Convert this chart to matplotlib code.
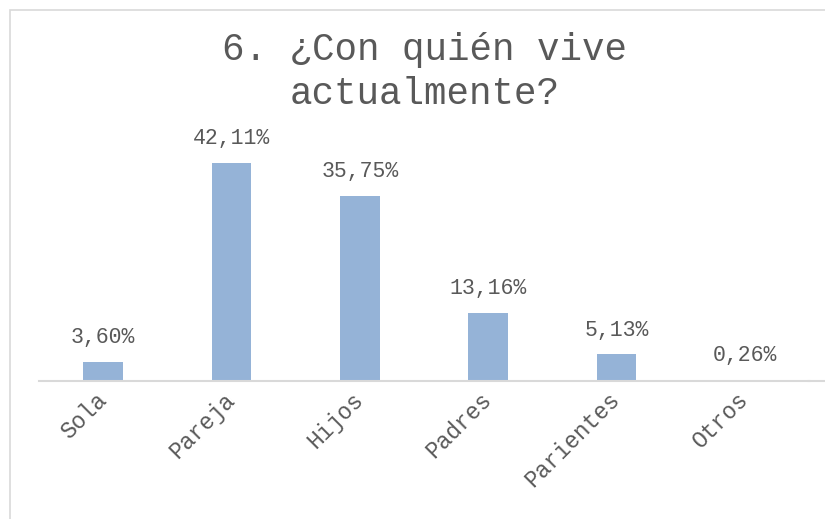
import matplotlib.pyplot as plt
from matplotlib.patches import Rectangle

categorias = ['Sola', 'Pareja', 'Hijos', 'Padres', 'Parientes', 'Otros']
porcentajes = [3.60, 42.11, 35.75, 13.16, 5.13, 0.26]
etiquetas = ['3,60%', '42,11%', '35,75%', '13,16%', '5,13%', '0,26%']

plt.rcParams['font.family'] = ['Liberation Mono', 'DejaVu Sans Mono']
gris = '#595959'

W, H = 825, 519
fig = plt.figure(figsize=(W / 100, H / 100), dpi=100)

# marco del gráfico (sólo se ven los bordes izquierdo y superior)
fig.patches.append(Rectangle((10 / W, -0.1), 1.2, 1 - 10 / H + 0.1, transform=fig.transFigure,
                             fill=False, edgecolor='#D9D9D9', linewidth=1.2))

ax = fig.add_axes([39 / W, 1 - 381 / H, (809 - 39) / W, (381 - 130) / H])
x = range(len(categorias))
ax.bar(x, porcentajes, width=0.31, color='#95B3D7')
for i, (v, t) in enumerate(zip(porcentajes, etiquetas)):
    ax.annotate(t, (i, v), xytext=(0, 10), textcoords='offset points',
                ha='center', va='bottom', fontsize=15.5, color=gris)

ax.set_xlim(-0.5, 5.5)
ax.set_ylim(0, 48.5)
ax.set_yticks([])
ax.set_xticks(list(x))
ax.set_xticklabels(categorias, rotation=45, ha='right', va='center', rotation_mode='anchor',
                   fontsize=16.5, color=gris)
ax.tick_params(axis='x', length=0, pad=11)
for s in ['top', 'right', 'left']:
    ax.spines[s].set_visible(False)
ax.spines['bottom'].set_color('#D9D9D9')
ax.spines['bottom'].set_linewidth(1.5)
ax.plot([5.5, 6.0], [0, 0], color='#D9D9D9', linewidth=1.5, clip_on=False)

fig.text(425 / W, 1 - 72 / H, '6. ¿Con quién vive\nactualmente?', ha='center', va='center',
         fontsize=27, color=gris, linespacing=1.3)

fig.savefig('out.png', dpi=100)
